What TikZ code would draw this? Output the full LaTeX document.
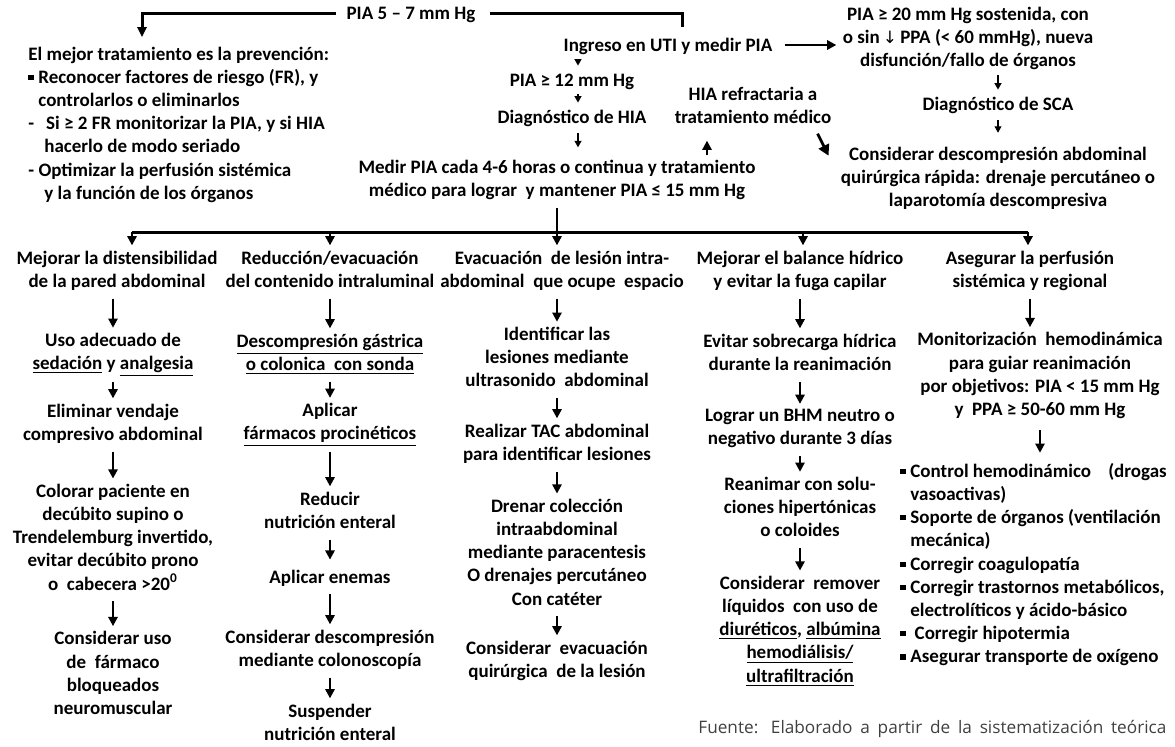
\documentclass[tikz,border=0pt]{standalone}
\usepackage{fontspec}
\setmainfont{Carlito}
\newfontfamily\symfont{DejaVu Sans}
\newfontfamily\srcfont{Open Sans}
\usetikzlibrary{arrows.meta,calc}

\newcommand{\sq}{\makebox[5pt][l]{\raisebox{0.35ex}{\rule{2.6pt}{2.6pt}}}}
\newcommand{\ind}{\hspace*{5pt}}
\newcommand{\subr}[1]{\underline{#1}}

\begin{document}
\begin{tikzpicture}[x=0.5pt,y=-0.5pt,
    every node/.style={font=\fontsize{9.5}{11.6}\selectfont\bfseries,align=center,inner sep=1pt,
      execute at begin node={\rule{0pt}{9pt}},execute at end node={\rule[-3pt]{0pt}{3pt}}},
    arr/.style={line width=1.1pt,-{Triangle[width=4.6pt,length=4.6pt]},shorten <=1.5pt,shorten >=1.5pt},
    arrs/.style={line width=0.6pt,-{Triangle[width=3.4pt,length=3.2pt]}},
    hline/.style={line width=1.5pt}]

    \useasboundingbox (0,0) rectangle (1175,746);

    % top part
    \node (pia57) at (411,13) {PIA 5 – 7 mm Hg};
    \node [anchor=west,align=left] (prev) at (26,126)
    {
      El mejor tratamiento es la prevención:\\
      \sq Reconocer factores de riesgo (FR), y\\
      \ind controlarlos o eliminarlos\\
      -\hspace*{6pt}Si ≥ 2 FR monitorizar la PIA, y si HIA\\
      \hspace*{8pt}hacerlo de modo seriado\\
      - Optimizar la perfusión sistémica\\
      \hspace*{8pt}y la función de los órganos
    };
    \node (ingreso) at (668,45) {Ingreso en UTI y medir PIA};
    \node (pia12) at (572,80) {PIA ≥ 12 mm Hg};
    \node (dhia) at (572,117) {Diagnóstico de HIA};
    \node (medir) at (557,181) {Medir PIA cada 4-6 horas o continua y tratamiento\\
      médico para lograr\ \ y mantener PIA ≤ 15 mm Hg};
    \node (refr) at (753,108) {HIA refractaria a\\tratamiento médico};
    \node (rblk) at (968,40) {PIA ≥ 20 mm Hg sostenida, con\\
      o sin\,{\symfont\mdseries\fontsize{8.5}{10}\selectfont↓}\,PPA (< 60 mmHg), nueva\\disfunción/fallo de órganos};
    \node (sca) at (998,104) {Diagnóstico de SCA};
    \node (cons) at (998,180) {Considerar descompresión abdominal\\
      quirúrgica rápida: drenaje percutáneo o\\laparotomía descompresiva};

    \coordinate (lftop) at (142,37);
    \coordinate (ax) at (578,0);
    \coordinate (upx) at (707,0);
    \draw[hline,-{Triangle[width=4.6pt,length=5pt]}] ($(pia57.west)+(-8,0)$) -| (lftop);
    \draw[hline] ($(pia57.east)+(12,0)$) -| ($(ingreso.north)+(14,-4)$);
    \draw[arrs] (ax |- ingreso.south) -- (ax |- pia12.north);
    \draw[arrs] (ax |- pia12.south) -- (ax |- dhia.north);
    \draw[arrs,shorten <=1pt,shorten >=5pt] (ax |- dhia.south) -- (ax |- medir.north);
    \draw[arr,line width=1pt,shorten <=1pt,shorten >=4.5pt] (upx |- medir.north) -- (upx |- refr.south);
    \draw[arr,line width=1.4pt,shorten <=5pt,shorten >=2pt] (ingreso.east) -- (ingreso.east -| rblk.west);
    \draw[arrs] (sca.north |- rblk.south) -- (sca.north);
    \draw[arrs,shorten <=1pt,shorten >=6pt] (sca.south) -- (sca.south |- cons.north);
    \draw[line width=1.4pt,-{Triangle[width=5.6pt,length=5.4pt]}] ($(refr.south east)+(-16,2)$) -- ($(cons.north west)+(-10,11)$);

    % the five branches
    \coordinate (b1) at (132,232);
    \coordinate (b2) at (330,232);
    \coordinate (b4) at (803,232);
    \coordinate (b5) at (1028,232);
    \draw[hline] (b1) -- (b5);

    \node (c1h) at (117,272) {Mejorar la distensibilidad\\de la pared abdominal};
    \node (c2h) at (330,272) {Reducción/evacuación\\del contenido intraluminal};
    \node (c3h) at (562,272) {Evacuación\ \ de lesión intra-\\abdominal\ \ que ocupe\ \ espacio};
    \node (c4h) at (800,272) {Mejorar el balance hídrico\\y evitar la fuga capilar};
    \node (c5h) at (1030,272) {Asegurar la perfusión\\sistémica y regional};

    \draw[arr,shorten <=0pt] (b1) -- (b1 |- c1h.north);
    \draw[arr,shorten <=0pt] (b2) -- (b2 |- c2h.north);
    \draw[arr] (medir.south) -- (medir.south |- c3h.north);
    \draw[arr,shorten <=0pt] (b4) -- (b4 |- c4h.north);
    \draw[arr,shorten <=0pt] (b5) -- (b5 |- c5h.north);

    % column 1
    \node (c1a) at (113,355) {Uso adecuado de\\\subr{sedación} y \subr{analgesia}};
    \node (c1b) at (113,425) {Eliminar vendaje\\compresivo abdominal};
    \node (c1c) at (113,540) {Colorar paciente en\\decúbito supino o\\Trendelemburg invertido,\\
      evitar decúbito prono\\o\ \ cabecera >20\textsuperscript{0}};
    \node (c1d) at (113,676) {Considerar uso\\de\ \ fármaco\\bloqueados\\neuromuscular};
    \draw[arr] (c1a.north |- c1h.south) -- (c1a.north);
    \draw[arr] (c1a.south) -- (c1b.north);
    \draw[arr] (c1b.south) -- (c1c.north);
    \draw[arr] (c1c.south) -- (c1d.north);

    % column 2
    \node (c2a) at (330,355) {\subr{Descompresión gástrica}\\\subr{o colonica\ \ con sonda}};
    \node (c2b) at (330,425) {Aplicar\\\subr{fármacos procinéticos}};
    \node (c2c) at (330,513) {Reducir\\nutrición enteral};
    \node (c2d) at (330,577) {Aplicar enemas};
    \node (c2e) at (330,651) {Considerar descompresión\\mediante colonoscopía};
    \node (c2f) at (330,725) {Suspender\\nutrición enteral};
    \draw[arr] (c2h.south) -- (c2a.north);
    \draw[arr] (c2a.south) -- (c2b.north);
    \draw[arr] (c2b.south) -- (c2c.north);
    \draw[arr] (c2c.south) -- (c2d.north);
    \draw[arr] (c2d.south) -- (c2e.north);
    \draw[arr] (c2e.south) -- (c2f.north);

    % column 3
    \node (c3a) at (557,360) {Identificar las\\lesiones mediante\\ultrasonido\ \ abdominal};
    \node (c3b) at (557,445) {Realizar TAC abdominal\\para identificar lesiones};
    \node (c3c) at (557,555) {Drenar colección\\intraabdominal\\mediante paracentesis\\
      O drenajes percutáneo\\Con catéter};
    \node (c3d) at (557,662) {Considerar\ \ evacuación\\quirúrgica\ \ de la lesión};
    \draw[arr] (c3a.north |- c3h.south) -- (c3a.north);
    \draw[arr] (c3a.south) -- (c3b.north);
    \draw[arr] (c3b.south) -- (c3c.north);
    \draw[arr] (c3c.south) -- (c3d.north);

    % column 4
    \node (c4a) at (800,355) {Evitar sobrecarga hídrica\\durante la reanimación};
    \node (c4b) at (800,430) {Lograr un BHM neutro o\\negativo durante 3 días};
    \node (c4c) at (800,510) {Reanimar con solu-\\ciones hipertónicas\\o coloides};
    \node (c4d) at (800,632) {Considerar\ \ remover\\líquidos\ \ con uso de\\
      \subr{diuréticos}, \subr{albúmina}\\\subr{hemodiálisis/}\\\subr{ultrafiltración}};
    \draw[arr] (c4h.south) -- (c4a.north);
    \draw[arr] (c4a.south) -- (c4b.north);
    \draw[arr] (c4b.south) -- (c4c.north);
    \draw[arr] (c4c.south) -- (c4d.north);

    % column 5
    \node (c5a) at (1040,377) {Monitorización\ \ hemodinámica\\para guiar reanimación\\
      por objetivos: PIA < 15 mm Hg\\y\ \ PPA ≥ 50-60 mm Hg};
    \node [anchor=west,align=left] (c5b) at (898,566)
    {
      \sq Control hemodinámico\ \ \ \ (drogas\\
      \ind vasoactivas)\\
      \sq Soporte de órganos (ventilación\\
      \ind mecánica)\\
      \sq Corregir coagulopatía\\
      \sq Corregir trastornos metabólicos,\\
      \ind electrolíticos y ácido-básico\\
      \sq\ Corregir hipotermia\\
      \sq Asegurar transporte de oxígeno
    };
    \draw[arr] (c5h.south) -- (c5h.south |- c5a.north);
    \draw[arr,shorten <=3pt,shorten >=4pt] (c5a.south) -- (c5a.south |- c5b.north);

    \node [anchor=west,font=\srcfont\fontsize{8.6}{11}\selectfont,text=black!75] (fuente) at (696,727)
      {\makebox[234pt][s]{Fuente: Elaborado a partir de la sistematización teórica}};
  \end{tikzpicture}
\end{document}
